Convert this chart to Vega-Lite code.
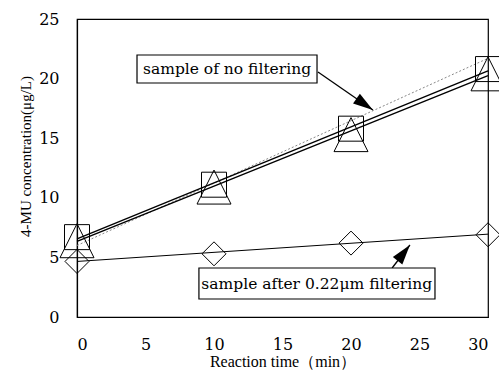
{
  "$schema": "https://vega.github.io/schema/vega-lite/v6.json",
  "width": 411,
  "height": 298,
  "autosize": {"type": "none"},
  "padding": {"left": 77, "top": 19, "right": 11, "bottom": 53},
  "background": "white",
  "config": {
    "view": {"stroke": "black", "strokeWidth": 1.2},
    "axis": {
      "labelFont": "DejaVu Serif",
      "labelFontSize": 16,
      "labelColor": "black",
      "titleFont": "Liberation Serif",
      "titleFontSize": 16.5,
      "titleFontWeight": "normal",
      "titleColor": "black",
      "ticks": false,
      "grid": false,
      "domainColor": "black",
      "domainWidth": 1.2
    }
  },
  "datasets": {
    "pts": [
      {"series": "square", "t": 0, "c": 6.7},
      {"series": "square", "t": 10, "c": 11.1},
      {"series": "square", "t": 20, "c": 15.8},
      {"series": "square", "t": 30, "c": 20.8},
      {"series": "triangle", "t": 0, "c": 6.4},
      {"series": "triangle", "t": 10, "c": 10.9},
      {"series": "triangle", "t": 20, "c": 15.3},
      {"series": "triangle", "t": 30, "c": 20.4},
      {"series": "diamond", "t": 0, "c": 4.66},
      {"series": "diamond", "t": 10, "c": 5.3},
      {"series": "diamond", "t": 20, "c": 6.2},
      {"series": "diamond", "t": 30, "c": 6.9}
    ],
    "fits": [
      {"fit": "square", "t": 0, "c": 6.55},
      {"fit": "square", "t": 30, "c": 20.65},
      {"fit": "triangle", "t": 0, "c": 6.35},
      {"fit": "triangle", "t": 30, "c": 20.25}
    ],
    "fitd": [
      {"t": 0, "c": 4.66},
      {"t": 30, "c": 6.95}
    ],
    "dotted": [
      {"t": 0, "c": 6.0},
      {"t": 30, "c": 21.7}
    ],
    "boxes": [
      {"label": "sample of no filtering", "x1": 4.38, "x2": 17.52, "y1": 19.63, "y2": 21.98, "tx": 10.95, "ty": 20.8},
      {"label": "sample after 0.22μm filtering", "x1": 8.9, "x2": 26.13, "y1": 1.51, "y2": 4.11, "tx": 17.5, "ty": 2.81}
    ],
    "arrows": [
      {"id": "a1", "x1": 17.59, "y1": 20.55, "x2": 21.6, "y2": 17.37},
      {"id": "a2", "x1": 23.0, "y1": 4.11, "x2": 24.3, "y2": 6.04}
    ]
  },
  "layer": [
    {
      "data": {"name": "dotted"},
      "mark": {"type": "line", "color": "#888888", "strokeWidth": 1, "strokeDash": [2, 2]},
      "encoding": {
        "x": {"field": "t", "type": "quantitative", "scale": {"domain": [0, 30], "nice": false},
              "axis": {"values": [0, 5, 10, 15, 20, 25, 30], "labelPadding": 19, "title": "Reaction time（min）", "titleFontSize": 16, "titlePadding": 1}},
        "y": {"field": "c", "type": "quantitative", "scale": {"domain": [0, 25], "nice": false},
              "axis": {"values": [0, 5, 10, 15, 20, 25], "labelPadding": 18, "title": "4-MU concentration(μg/L)", "titleFontSize": 15, "titlePadding": 5, "titleY": 137}}
      }
    },
    {
      "data": {"name": "fits"},
      "mark": {"type": "line", "color": "black", "strokeWidth": 1.4},
      "encoding": {
        "x": {"field": "t", "type": "quantitative"},
        "y": {"field": "c", "type": "quantitative"},
        "detail": {"field": "fit"}
      }
    },
    {
      "data": {"name": "fitd"},
      "mark": {"type": "line", "color": "black", "strokeWidth": 1},
      "encoding": {
        "x": {"field": "t", "type": "quantitative"},
        "y": {"field": "c", "type": "quantitative"}
      }
    },
    {
      "data": {"name": "pts"},
      "transform": [{"filter": "datum.series === 'square'"}],
      "mark": {"type": "point", "shape": "square", "size": 625, "filled": false, "stroke": "black", "strokeWidth": 1, "opacity": 1},
      "encoding": {
        "x": {"field": "t", "type": "quantitative"},
        "y": {"field": "c", "type": "quantitative"}
      }
    },
    {
      "data": {"name": "pts"},
      "transform": [{"filter": "datum.series === 'triangle'"}],
      "mark": {"type": "point", "shape": "M0,-1L1,1L-1,1Z", "size": 1156, "filled": false, "stroke": "black", "strokeWidth": 1, "opacity": 1},
      "encoding": {
        "x": {"field": "t", "type": "quantitative"},
        "y": {"field": "c", "type": "quantitative"}
      }
    },
    {
      "data": {"name": "pts"},
      "transform": [{"filter": "datum.series === 'diamond'"}],
      "mark": {"type": "point", "shape": "diamond", "size": 576, "filled": false, "stroke": "black", "strokeWidth": 1, "opacity": 1},
      "encoding": {
        "x": {"field": "t", "type": "quantitative"},
        "y": {"field": "c", "type": "quantitative"}
      }
    },
    {
      "data": {"name": "arrows"},
      "mark": {"type": "rule", "color": "black", "strokeWidth": 1.3},
      "encoding": {
        "x": {"field": "x1", "type": "quantitative"},
        "y": {"field": "y1", "type": "quantitative"},
        "x2": {"field": "x2"},
        "y2": {"field": "y2"}
      }
    },
    {
      "data": {"name": "arrows"},
      "transform": [{"filter": "datum.id === 'a1'"}],
      "mark": {"type": "point", "shape": "M0,0L0.6,2L-0.6,2Z", "size": 400, "filled": true, "color": "black", "opacity": 1, "angle": 124.6},
      "encoding": {
        "x": {"field": "x2", "type": "quantitative"},
        "y": {"field": "y2", "type": "quantitative"}
      }
    },
    {
      "data": {"name": "arrows"},
      "transform": [{"filter": "datum.id === 'a2'"}],
      "mark": {"type": "point", "shape": "M0,0L0.6,2L-0.6,2Z", "size": 400, "filled": true, "color": "black", "opacity": 1, "angle": 38},
      "encoding": {
        "x": {"field": "x2", "type": "quantitative"},
        "y": {"field": "y2", "type": "quantitative"}
      }
    },
    {
      "data": {"name": "boxes"},
      "mark": {"type": "rect", "fill": "white", "stroke": "black", "strokeWidth": 1.2},
      "encoding": {
        "x": {"field": "x1", "type": "quantitative"},
        "x2": {"field": "x2"},
        "y": {"field": "y1", "type": "quantitative"},
        "y2": {"field": "y2"}
      }
    },
    {
      "data": {"name": "boxes"},
      "mark": {"type": "text", "font": "DejaVu Serif", "fontSize": 15.5, "color": "black", "align": "center", "baseline": "middle"},
      "encoding": {
        "x": {"field": "tx", "type": "quantitative"},
        "y": {"field": "ty", "type": "quantitative"},
        "text": {"field": "label"}
      }
    }
  ]
}
